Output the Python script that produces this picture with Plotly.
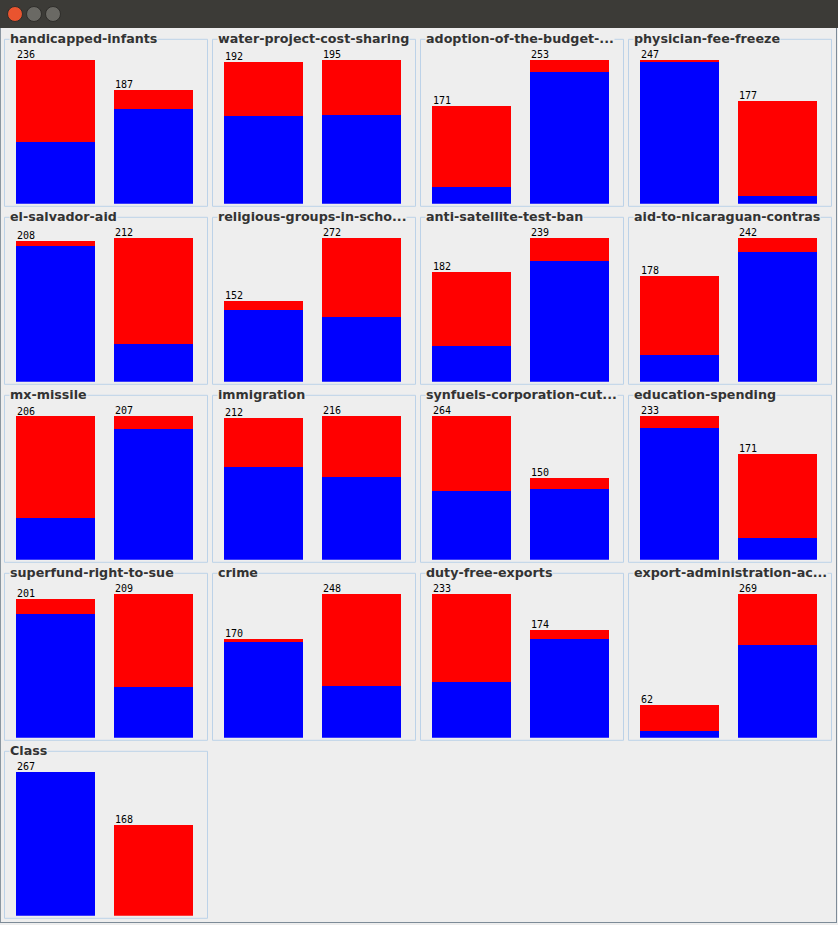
import plotly.graph_objects as go

W, H = 838, 925

attributes = [
    "handicapped-infants", "water-project-cost-sharing", "adoption-of-the-budget-...",
    "physician-fee-freeze", "el-salvador-aid", "religious-groups-in-scho...",
    "anti-satellite-test-ban", "aid-to-nicaraguan-contras", "mx-missile",
    "immigration", "synfuels-corporation-cut...", "education-spending",
    "superfund-right-to-sue", "crime", "duty-free-exports",
    "export-administration-ac...", "Class",
]
# counts for value 'n' (first bar) and 'y' (second bar), split by class
dem_n = [102, 119, 29, 245, 200, 135, 59, 45, 60, 139, 126, 213, 179, 167, 91, 12]
rep_n = [134, 73, 142, 2, 8, 17, 123, 133, 146, 73, 138, 20, 22, 3, 142, 50]
dem_y = [156, 120, 231, 14, 55, 123, 200, 218, 188, 124, 129, 36, 73, 90, 160, 173]
rep_y = [31, 75, 22, 163, 157, 149, 39, 24, 19, 92, 21, 135, 136, 158, 14, 96]
class_counts = [267, 168]  # democrat, republican

BLUE = "#0000ff"
RED = "#ff0000"
BG = "#eeeeee"
BORDER = "#bcd2e8"

fig = go.Figure()
shapes = []
annotations = []

def px_x(v):
    return v / W

def px_y(v):
    return 1 - v / H

BAR_W = 79 / 98
for k, name in enumerate(attributes):
    r, c = divmod(k, 4)
    left = 4 + 208 * c
    top = 38.8 + 178 * r
    right = left + 203
    bottom = top + 167
    ax = "" if k == 0 else str(k + 1)
    xa = "x" + ax
    ya = "y" + ax
    # panel border
    shapes.append(dict(type="rect", xref="paper", yref="paper",
                       x0=px_x(left + 0.5), x1=px_x(right + 0.5),
                       y0=px_y(top + 0.5), y1=px_y(bottom + 0.5),
                       line=dict(color=BORDER, width=1), fillcolor="rgba(0,0,0,0)", layer="below"))
    if name == "Class":
        blues = [class_counts[0], 0]
        reds = [0, class_counts[1]]
    else:
        blues = [dem_n[k], dem_y[k]]
        reds = [rep_n[k], rep_y[k]]
    totals = [b + rr for b, rr in zip(blues, reds)]
    ymax = max(totals)
    fig.add_trace(go.Bar(x=[0, 1], y=blues, width=BAR_W, marker=dict(color=BLUE, line=dict(width=0)),
                         xaxis=xa, yaxis=ya, showlegend=False, hoverinfo="skip"))
    fig.add_trace(go.Bar(x=[0, 1], y=reds, width=BAR_W, marker=dict(color=RED, line=dict(width=0)),
                         xaxis=xa, yaxis=ya, showlegend=False, hoverinfo="skip"))
    bx0 = left + 12
    bx1 = left + 189
    by1 = top + 165
    by0 = by1 - 144
    axis_common = dict(showgrid=False, zeroline=False, showticklabels=False, ticks="",
                       showline=False, fixedrange=True)
    fig.layout["xaxis" + ax] = dict(domain=[px_x(bx0), px_x(bx1)],
                                    range=[-BAR_W / 2, 1 + BAR_W / 2],
                                    anchor=ya, **axis_common)
    fig.layout["yaxis" + ax] = dict(domain=[px_y(by1), px_y(by0)], range=[0, ymax],
                                    anchor=xa, **axis_common)
    for i, t in enumerate(totals):
        annotations.append(dict(x=i - BAR_W / 2, y=t, xref=xa, yref=ya, text=str(t),
                                showarrow=False, xanchor="left", yanchor="bottom",
                                yshift=-2, xshift=-1,
                                font=dict(family="DejaVu Sans Mono", size=10, color="#000000")))
    annotations.append(dict(x=px_x(left + 5), y=px_y(top - 0.5), xref="paper", yref="paper",
                            text="<b>" + name + "</b>", showarrow=False,
                            xanchor="left", yanchor="middle", bgcolor=BG, borderpad=0,
                            font=dict(family="DejaVu Sans", size=12.7, color="#333333")))

# window chrome
shapes.append(dict(type="rect", xref="paper", yref="paper", x0=0, x1=1,
                   y0=px_y(28), y1=1, fillcolor="#3c3b37", line=dict(width=0), layer="below"))
shapes.append(dict(type="line", xref="paper", yref="paper", x0=px_x(0.5), x1=px_x(0.5),
                   y0=px_y(28), y1=px_y(923), line=dict(color="#8a96a0", width=1)))
shapes.append(dict(type="line", xref="paper", yref="paper", x0=px_x(836.5), x1=px_x(836.5),
                   y0=px_y(28), y1=px_y(923), line=dict(color="#7d8b98", width=1)))
shapes.append(dict(type="line", xref="paper", yref="paper", x0=0, x1=px_x(837),
                   y0=px_y(922.5), y1=px_y(922.5), line=dict(color="#7d8b98", width=1)))
for cx, col in [(15, "#e9542f"), (34, "#6a6964"), (53, "#6a6964")]:
    shapes.append(dict(type="circle", xref="paper", yref="paper",
                       x0=px_x(cx - 7.5), x1=px_x(cx + 7.5), y0=px_y(14 + 7.5), y1=px_y(14 - 7.5),
                       fillcolor=col, line=dict(color="#2e2d2a", width=1)))

fig.update_layout(width=W, height=H, margin=dict(l=0, r=0, t=0, b=0),
                  paper_bgcolor=BG, plot_bgcolor="rgba(0,0,0,0)", barmode="stack",
                  shapes=shapes, annotations=annotations, showlegend=False)
fig.write_html("out.html", config={"displayModeBar": False})
